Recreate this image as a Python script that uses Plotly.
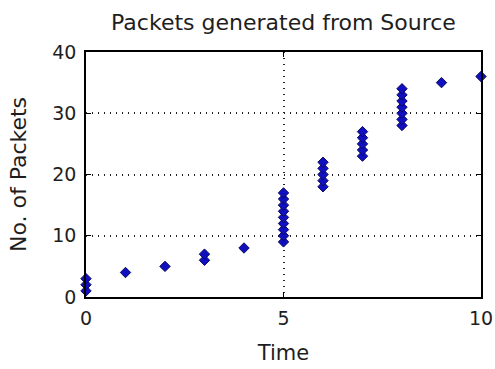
import plotly.graph_objects as go

time = [0, 0, 0, 1, 2, 3, 3, 4,
        5, 5, 5, 5, 5, 5, 5, 5, 5,
        6, 6, 6, 6, 6,
        7, 7, 7, 7, 7,
        8, 8, 8, 8, 8, 8, 8,
        9, 10]
packets = [1, 2, 3, 4, 5, 6, 7, 8,
           9, 10, 11, 12, 13, 14, 15, 16, 17,
           18, 19, 20, 21, 22,
           23, 24, 25, 26, 27,
           28, 29, 30, 31, 32, 33, 34,
           35, 36]

x_ticks = [0, 5, 10]
y_ticks = [0, 10, 20, 30, 40]

fig = go.Figure()
fig.add_trace(go.Scatter(
    x=time, y=packets, mode="markers",
    marker=dict(symbol="diamond", size=8, color="#1010c0",
                line=dict(color="#0a0a60", width=1)),
    cliponaxis=False, showlegend=False,
))

font = "DejaVu Sans, Verdana, sans-serif"
txt = "#1e1e1e"
axis_common = dict(
    showline=True, linecolor="black", linewidth=1.5, mirror="ticks",
    ticks="inside", ticklen=5, tickcolor="black",
    showgrid=True, gridcolor="#222", griddash="1px,5px", gridwidth=1.5,
    zeroline=False, automargin=False,
    tickfont=dict(family=font, size=19, color=txt),
)

fig.update_layout(
    width=495, height=369,
    margin=dict(l=86, r=14, t=52, b=72),
    paper_bgcolor="white", plot_bgcolor="white",
    title=dict(text="Packets generated from Source", x=0.5, xanchor="center",
               xref="paper", y=1 - 22 / 369, yref="container", yanchor="middle",
               font=dict(family=font, size=22, color=txt)),
    xaxis=dict(range=[0, 10], tickvals=x_ticks, ticklabelstandoff=3,
               title=dict(text="Time", font=dict(family=font, size=21, color=txt), standoff=18),
               **axis_common),
    yaxis=dict(range=[0, 40], tickvals=y_ticks, ticklabelstandoff=4,
               title=dict(text="No. of Packets", font=dict(family=font, size=22, color=txt), standoff=20),
               **axis_common),
)

fig.write_html("out.html")
